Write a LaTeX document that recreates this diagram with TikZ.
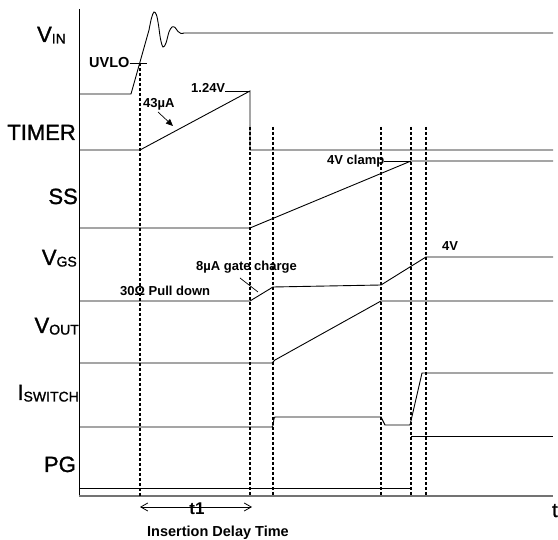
\documentclass[tikz,border=0pt]{standalone}
\usepackage{fontspec}
\setmainfont{Liberation Sans}
\newfontfamily\heavyfont[FakeBold=1.3]{Liberation Sans}
\usetikzlibrary{arrows.meta}
\newcommand\sigsub[1]{\raisebox{-1.5pt}{\fontsize{14}{14}\selectfont #1}}
\begin{document}
\begin{tikzpicture}[x=1pt,y=-1pt,
  sig/.style={line width=0.9pt},
  guide/.style={line width=1.2pt, dash pattern=on 3.5pt off 1.5pt},
  lbl/.style={font=\heavyfont\fontsize{22}{22}\selectfont, inner sep=0pt, anchor=base east},
  sm/.style={font=\bfseries\fontsize{13}{13}\selectfont, inner sep=0pt, anchor=base west},
  lead/.style={line width=0.7pt}]
\useasboundingbox (0,0) rectangle (558,540);
% axes
\draw[line width=1pt] (79,9) -- (79,496);
\draw[line width=1.8pt, black!55] (79,496) -- (553,496);
% guides
\draw[guide] (140,63) -- (140,496);
\foreach \gx in {250,273,381,411,426}
  \draw[guide] (\gx,127) -- (\gx,496);
% signal labels
\node[lbl] (vin) at (66,42) {V\sigsub{IN}};
\node[lbl] (timer) at (76,140) {TIMER};
\node[lbl] (ss) at (78,204) {SS};
\node[lbl] (vgs) at (77,265) {V\sigsub{GS}};
\node[lbl] (vout) at (79,333) {V\sigsub{OUT}};
\node[lbl] (isw) at (79,400) {I\sigsub{SWITCH}};
\node[lbl] (pg) at (76,472) {PG};
% VIN
\draw[sig] (79,94) -- (131,94) -- (149,30)
  plot[smooth, tension=0.55] coordinates {(149,30) (151.5,18) (154,12) (156.5,15) (158.5,25) (160.5,39) (163,47) (166,43) (169,32) (172,27) (175,27.5) (178,31.5) (181,33.5) (184,33)}
  -- (553,33);
% TIMER
\draw[sig] (79,150) -- (140,150) -- (250,91) -- (250,150) -- (553,150);
% SS
\draw[sig] (79,228) -- (250,228) -- (411,161) -- (553,161);
% VGS
\draw[sig] (79,301) -- (250,301) -- (273,287) -- (381,285) -- (426,257) -- (553,257);
% VOUT
\draw[sig] (79,363) -- (272,363) .. controls (273.5,363) and (273.5,360) .. (275,360) -- (381,301) -- (553,301);
% ISWITCH
\draw[sig] (79,427) -- (272,427) .. controls (274,427) and (273,417) .. (275,417) -- (381,417) -- (385,425) -- (410,425) -- (422,373) -- (553,373);
% PG
\draw[sig] (79,488) -- (411,488);
\draw[sig] (411,436) -- (553,436);
% annotations
\node[sm, font=\bfseries\fontsize{14.5}{14.5}\selectfont] (uvlo) at (89,68) {UVLO};
\coordinate (uvloend) at (147,63);
\draw[lead] (uvlo.east |- uvloend) -- (uvloend);
\node[sm] (v124) at (191,93) {1.24V};
\coordinate (v124end) at (250,91);
\draw[lead] (v124.east |- v124end) -- (v124end);
\node[sm] (i43) at (143,108) {43µA};
\coordinate (i43a) at (158,112);
\coordinate (i43b) at (173,126);
\draw[lead, -{Triangle[length=7pt,width=6pt]}] (i43a) -- (i43b);
\node[sm] (clamp) at (327,165) {4V clamp};
\coordinate (clampend) at (411,161);
\draw[lead] (clamp.east |- clampend) -- (clampend);
\node[sm] (v4) at (442,251) {4V};
\node[sm] (gate) at (196,271) {8µA gate charge};
\coordinate (gatea) at (240,278);
\coordinate (gateb) at (258,292);
\draw[lead] (gatea) -- (gateb);
\node[sm] (pull) at (120,296) {30Ω Pull down};
% time markers
\coordinate (t1a) at (140,507);
\coordinate (t1b) at (252,507);
\draw[line width=0.8pt, {Straight Barb[length=7pt,width=8pt]}-{Straight Barb[length=7pt,width=8pt]}] (t1a) -- (t1b);
\node[font=\bfseries\fontsize{17}{17}\selectfont, inner sep=0pt, anchor=base] (t1) at (197,515) {t1};
\node[sm, font=\bfseries\fontsize{14.5}{14.5}\selectfont] (ins) at (147,537) {Insertion Delay Time};
\node[font=\heavyfont\fontsize{20}{20}\selectfont, inner sep=0pt, anchor=base west] (t) at (552,517) {t};
\end{tikzpicture}
\end{document}
